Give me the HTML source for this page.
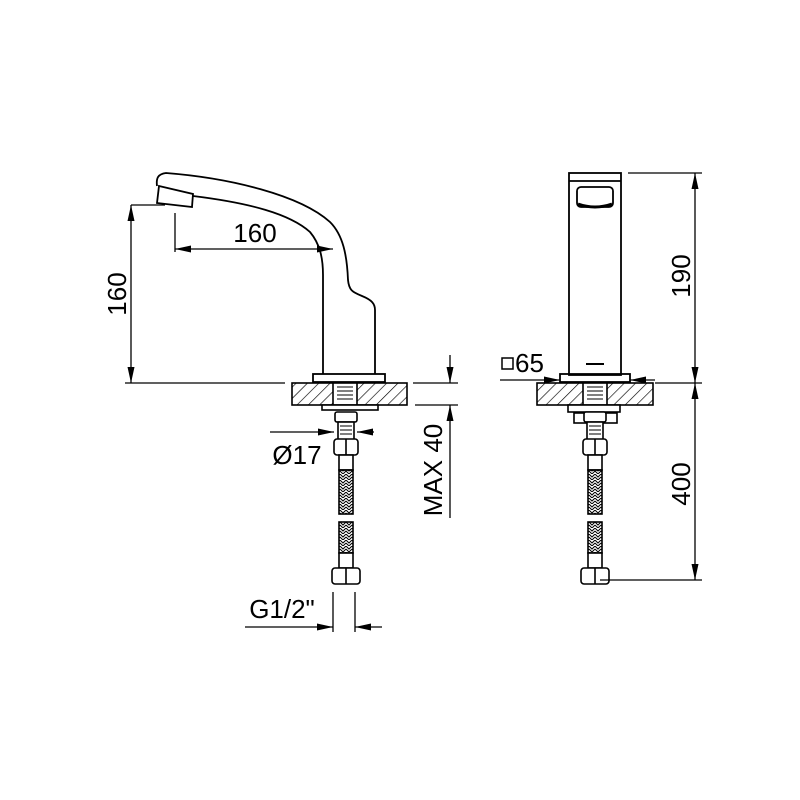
<!DOCTYPE html>
<html><head><style>body{margin:0;background:#fff}svg{display:block}text{font-family:"Liberation Sans",sans-serif;fill:#000}</style></head><body>
<svg width="800" height="800" viewBox="0 0 800 800" xmlns="http://www.w3.org/2000/svg">
<defs>
<pattern id="h" width="8" height="8" patternUnits="userSpaceOnUse" patternTransform="rotate(45)"><line x1="0" y1="0" x2="0" y2="8" stroke="#000" stroke-width="1.3"/></pattern>
<pattern id="br" width="6" height="6" patternUnits="userSpaceOnUse"><path d="M0 0 L3 3 L6 0 M0 3 L3 6 L6 3" stroke="#000" stroke-width="1" fill="none"/></pattern>
<marker id="a" viewBox="0 0 16 7" refX="16" refY="3.5" markerWidth="16" markerHeight="7" markerUnits="userSpaceOnUse" orient="auto-start-reverse"><path d="M0 0 L16 3.5 L0 7Z" fill="#000"/></marker>
<g id="hose" fill="#fff" stroke="#000" stroke-width="1.6">
<rect x="-11" y="412" width="22" height="10" rx="2"/>
<rect x="-8" y="422" width="16" height="18"/>
<path d="M-6 426h12M-6 430h12M-6 434h12" stroke-width="0.9"/>
<rect x="-12" y="439" width="24" height="16" rx="3"/>
<line x1="0" y1="439" x2="0" y2="455"/>
<rect x="-7" y="455" width="14" height="15"/>
<rect x="-7" y="470" width="14" height="44" fill="url(#br)"/>
<rect x="-7" y="522" width="14" height="31" fill="url(#br)"/>
<rect x="-7" y="553" width="14" height="15"/>
<rect x="-14" y="568" width="28" height="16" rx="3"/>
<line x1="0" y1="568" x2="0" y2="584"/>
</g>
</defs>
<g fill="none" stroke="#000" stroke-width="1.8">
<path d="M157 186 C156 178 158 174 166 173 C230 178 300 195 330 222 C343 235 347 255 348 280 C349 290 352 292 362 296 C372 300 375 304 375 310 L375 374"/>
<path d="M193 196 C250 203 290 214 310 232 C320 244 323 258 323 275 L323 374"/>
<path d="M159 186 L193 194 L192 207 L157 203 Z"/>
<rect x="313" y="374" width="72" height="8"/>
</g>
<g stroke="#000" stroke-width="1.6">
<rect x="292" y="383" width="115" height="22" fill="url(#h)"/>
<rect x="333" y="383" width="24" height="22" fill="#fff"/>
<path d="M337 387h16M337 391h16M337 395h16M337 399h16" stroke-width="0.9"/>
<rect x="322" y="405" width="56" height="5" fill="#fff"/>
<rect x="537" y="383" width="116" height="22" fill="url(#h)"/>
<rect x="583" y="383" width="24" height="22" fill="#fff"/>
<path d="M587 387h16M587 391h16M587 395h16M587 399h16" stroke-width="0.9"/>
<rect x="568" y="405" width="52" height="7" fill="#fff"/>
<rect x="574" y="413" width="43" height="10" fill="#fff"/>
</g>
<use href="#hose" x="346"/>
<use href="#hose" x="595"/>
<g fill="none" stroke="#000" stroke-width="1.8">
<rect x="569" y="173" width="52" height="202"/>
<line x1="569" y1="181" x2="621" y2="181"/>
<rect x="577" y="187" width="36" height="20" rx="4"/>
<path d="M578 204 Q595 210 612 204" stroke-width="3"/>
<rect x="560" y="374" width="70" height="8"/>
<path d="M586 364h18" stroke-width="2"/>
</g>
<g stroke="#000" stroke-width="1.3" fill="none">
<path d="M125 383H285M131 205H165M175 213V252M413 383H458M415 405H458M628 173H702M655 383H702M600 580H702"/>
<line x1="131" y1="205" x2="131" y2="383" marker-start="url(#a)" marker-end="url(#a)"/>
<line x1="175" y1="249" x2="333" y2="249" marker-start="url(#a)" marker-end="url(#a)"/>
<line x1="450" y1="355" x2="450" y2="383" marker-end="url(#a)"/>
<line x1="450" y1="518" x2="450" y2="405" marker-end="url(#a)"/>
<line x1="270" y1="432" x2="334" y2="432" marker-end="url(#a)"/>
<line x1="374" y1="432" x2="357" y2="432" marker-end="url(#a)"/>
<path d="M333 592V632M355 592V632"/>
<line x1="245" y1="627" x2="333" y2="627" marker-end="url(#a)"/>
<line x1="382" y1="627" x2="355" y2="627" marker-end="url(#a)"/>
<line x1="695" y1="173" x2="695" y2="383" marker-start="url(#a)" marker-end="url(#a)"/>
<line x1="695" y1="383" x2="695" y2="580" marker-start="url(#a)" marker-end="url(#a)"/>
<line x1="500" y1="380" x2="560" y2="380" marker-end="url(#a)"/>
<line x1="655" y1="380" x2="630" y2="380" marker-end="url(#a)"/>
<rect x="502" y="358" width="11" height="11" stroke-width="1.5"/>
</g>
<g font-size="26">
<text x="255" y="242" text-anchor="middle">160</text>
<text transform="translate(126,294) rotate(-90)" text-anchor="middle">160</text>
<text transform="translate(442,470) rotate(-90)" text-anchor="middle">MAX 40</text>
<text x="297" y="464" text-anchor="middle">Ø17</text>
<text x="282" y="618" text-anchor="middle">G1/2"</text>
<text transform="translate(690,276) rotate(-90)" text-anchor="middle">190</text>
<text transform="translate(690,484) rotate(-90)" text-anchor="middle">400</text>
<text x="515" y="372">65</text>
</g>
</svg>
</body></html>
